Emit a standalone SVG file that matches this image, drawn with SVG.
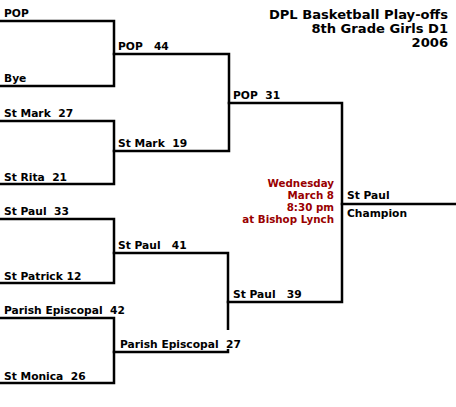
<svg xmlns="http://www.w3.org/2000/svg" width="456" height="407" viewBox="0 0 456 407">
<style>
text{font-family:"DejaVu Sans","Verdana",sans-serif;font-weight:bold;white-space:pre}
.t{font-size:10.7px;fill:#000}
.h{font-size:13.1px;fill:#000;text-anchor:end}
.r{font-size:10.3px;fill:#990000;text-anchor:end}
.c path{fill:none;stroke:#000;stroke-width:2.5;stroke-linecap:square}
</style>
<rect width="456" height="407" fill="#fff"/>
<g id="title">
<text class="h" x="448" y="19">DPL Basketball Play-offs</text>
<text class="h" x="448" y="33">8th Grade Girls D1</text>
<text class="h" x="448" y="47">2006</text>
</g>
<g class="c" id="connectors">
<path d="M0 21H114V86H0"/>
<path d="M0 121H114V184H0"/>
<path d="M0 219H114V283H0"/>
<path d="M0 318H114V383H0"/>
<path d="M114 54H229V151H114"/>
<path d="M114 253H228V352H114"/>
<path d="M229 103H342V302H228"/>
<path d="M342 204H456"/>
</g>
<g id="r1">
<text class="t" x="4" y="17">POP</text>
<text class="t" x="4" y="82">Bye</text>
<text class="t" x="4" y="117">St Mark  27</text>
<text class="t" x="4" y="181">St Rita  21</text>
<text class="t" x="4" y="215">St Paul  33</text>
<text class="t" x="4" y="280">St Patrick 12</text>
<text class="t" x="4" y="314">Parish Episcopal  42</text>
<text class="t" x="4" y="380">St Monica  26</text>
</g>
<g id="r2">
<text class="t" x="118" y="50">POP   44</text>
<text class="t" x="118" y="147">St Mark  19</text>
<text class="t" x="118" y="249">St Paul   41</text>
<rect x="221" y="330" width="16" height="19" fill="#fff"/>
<text class="t" x="120" y="348">Parish Episcopal  27</text>
</g>
<g id="r3">
<text class="t" x="233" y="99">POP  31</text>
<text class="t" x="233" y="298">St Paul   39</text>
</g>
<g id="final">
<text class="r" x="334" y="187">Wednesday</text>
<text class="r" x="334" y="199">March 8</text>
<text class="r" x="334" y="211">8:30 pm</text>
<text class="r" x="334" y="223">at Bishop Lynch</text>
<text class="t" x="347" y="199">St Paul</text>
<text class="t" x="347" y="217">Champion</text>
</g>
</svg>
